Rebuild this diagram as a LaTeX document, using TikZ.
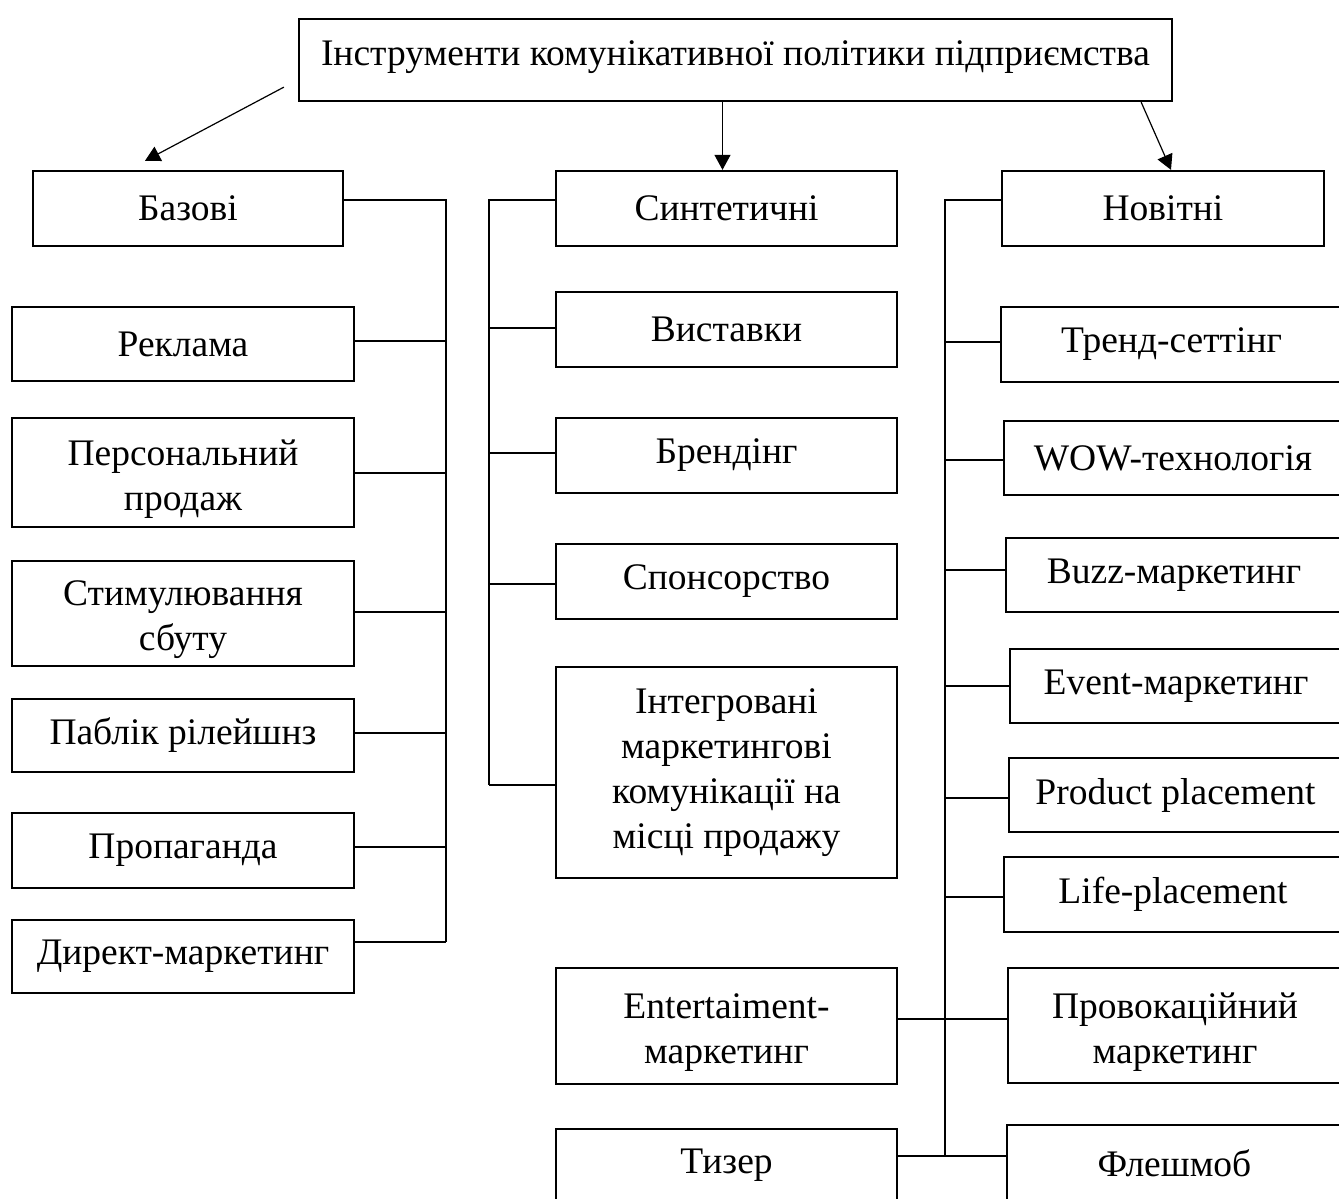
\documentclass[tikz,border=0pt]{standalone}
\usepackage{fontspec}
\setmainfont{Liberation Serif}
\usetikzlibrary{arrows.meta}
\newcommand{\mybox}[7][]{%
  \pgfmathsetmacro\mbw{(#5-#3)/2}%
  \pgfmathsetmacro\mbh{(#6-#4)/2}%
  \node[box,minimum width=\mbw pt,minimum height=\mbh pt,#1] (#2) at ({(#3+#5)/2},{(#4+#6)/2}) {#7};}
\newcommand{\lowstrut}{\rule{0pt}{19pt}}
\begin{document}
\begin{tikzpicture}[x=0.5pt,y=-0.5pt,
  box/.style={draw,line width=1.15pt,align=center,inner sep=0pt,
    font=\fontsize{18.75}{22.5}\selectfont},
  conn/.style={line width=0.6pt},
  arr/.style={line width=0.6pt,-{Triangle[length=7.5pt,width=8pt]}}]
\useasboundingbox (0,0) rectangle (1339,1199);
\clip (0,0) rectangle (1339,1199);
\fill[white] (0,0) rectangle (1339,1199);

% top
\mybox[text height=13pt,text depth=8pt]{title}{299}{19}{1172}{101}{Інструменти комунікативної політики підприємства}

% left column
\mybox{bazovi}{33}{171}{343}{246}{Базові}
\mybox{reklama}{12}{307}{354}{381}{Реклама}
\mybox{personal}{12}{418}{354}{527}{\lowstrut Персональний\\продаж}
\mybox{stymul}{12}{561}{354}{666}{\lowstrut Стимулювання\\сбуту}
\mybox{pr}{12}{699}{354}{772}{Паблік рілейшнз}
\mybox{propag}{12}{813}{354}{888}{Пропаганда}
\mybox{direct}{12}{920}{354}{993}{Директ-маркетинг}

% middle column
\mybox{synt}{556}{171}{897}{246}{Синтетичні}
\mybox{vyst}{556}{292}{897}{367}{Виставки}
\mybox{brend}{556}{418}{897}{493}{Брендінг}
\mybox{spons}{556}{544}{897}{619}{Спонсорство}
\mybox{integr}{556}{667}{897}{878}{Інтегровані\\маркетингові\\комунікації на\\місці продажу}
\mybox{entert}{556}{968}{897}{1084}{\lowstrut Entertaiment-\\маркетинг}
\mybox{tyzer}{556}{1129}{897}{1201}{Тизер}

% right column
\mybox{novitni}{1002}{171}{1324}{246}{Новітні}
\mybox{trend}{1001}{307}{1342}{382}{Тренд-сеттінг}
\mybox{wow}{1004}{421}{1342}{495}{WOW-технологія}
\mybox{buzz}{1006}{538}{1342}{612}{Buzz-маркетинг}
\mybox{event}{1010}{649}{1342}{723}{Event-маркетинг}
\mybox{product}{1009}{758}{1342}{832}{Product placement}
\mybox{life}{1004}{857}{1342}{932}{Life-placement}
\mybox{provok}{1008}{968}{1342}{1083}{\lowstrut Провокаційний\\маркетинг}
\mybox{flash}{1007}{1125}{1342}{1201}{Флешмоб}

% arrows from title
\draw[arr] ([xshift=-7pt,yshift=7.5pt]title.south west) -- ([xshift=-21.5pt,yshift=4.5pt]bazovi.north);
\draw[arr] ([xshift=-2pt]synt.north |- title.south) -- ([xshift=-2pt]synt.north);
\draw[arr] ([xshift=-16pt]title.south east) -- ([xshift=4pt]novitni.north);

% bus coordinates
\coordinate (lbtop) at (446,200);
\coordinate (lbbot) at (446,942);
\coordinate (mbtop) at (489,200);
\coordinate (mbbot) at (489,785);
\coordinate (rbtop) at (945,200);
\coordinate (rbbot) at (945,1156);

% left bus
\draw[conn] (bazovi.east |- lbtop) -- (lbtop) -- (lbbot);
\draw[conn] (reklama.east |- 0,341) -- (lbtop |- 0,341);
\draw[conn] (personal.east |- 0,473) -- (lbtop |- 0,473);
\draw[conn] (stymul.east |- 0,612) -- (lbtop |- 0,612);
\draw[conn] (pr.east |- 0,733) -- (lbtop |- 0,733);
\draw[conn] (propag.east |- 0,847) -- (lbtop |- 0,847);
\draw[conn] (direct.east |- lbbot) -- (lbbot);

% middle bus
\draw[conn] (synt.west |- mbtop) -- (mbtop) -- (mbbot);
\draw[conn] (vyst.west |- 0,328) -- (mbtop |- 0,328);
\draw[conn] (brend.west |- 0,453) -- (mbtop |- 0,453);
\draw[conn] (spons.west |- 0,584) -- (mbtop |- 0,584);
\draw[conn] (integr.west |- mbbot) -- (mbbot);

% right bus
\draw[conn] (novitni.west |- rbtop) -- (rbtop) -- (rbbot);
\draw[conn] (trend.west |- 0,342) -- (rbtop |- 0,342);
\draw[conn] (wow.west |- 0,460) -- (rbtop |- 0,460);
\draw[conn] (buzz.west |- 0,570) -- (rbtop |- 0,570);
\draw[conn] (event.west |- 0,686) -- (rbtop |- 0,686);
\draw[conn] (product.west |- 0,798) -- (rbtop |- 0,798);
\draw[conn] (life.west |- 0,897) -- (rbtop |- 0,897);

% cross links
\draw[conn] (entert.east |- 0,1019) -- (provok.west |- 0,1019);
\draw[conn] (tyzer.east |- rbbot) -- (flash.west |- rbbot);
\end{tikzpicture}
\end{document}
